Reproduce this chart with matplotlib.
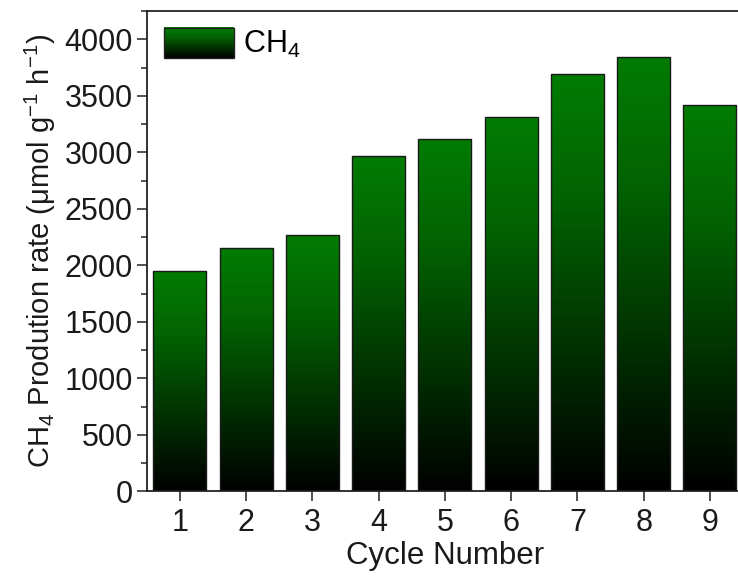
import numpy as np
import matplotlib
matplotlib.use('Agg')
import matplotlib.pyplot as plt
from matplotlib.colors import LinearSegmentedColormap
from matplotlib.patches import Rectangle
from matplotlib.legend_handler import HandlerBase
from matplotlib.ticker import MultipleLocator

plt.rcParams['font.family'] = ['Liberation Sans', 'DejaVu Sans']
plt.rcParams['mathtext.fontset'] = 'custom'
plt.rcParams['mathtext.rm'] = 'Liberation Sans'
plt.rcParams['mathtext.it'] = 'Liberation Sans:italic'

# 循环次数与对应的CH4产率
cycles = [1, 2, 3, 4, 5, 6, 7, 8, 9]
ch4_rate = [1945, 2150, 2270, 2965, 3120, 3310, 3690, 3840, 3415]

# 从底部黑色渐变到顶部绿色
cmap = LinearSegmentedColormap.from_list(
    'blk_green', [(0.0, '#000000'), (0.35, '#013201'), (0.7, '#026202'), (1.0, '#037c03')])
grad = np.linspace(0, 1, 256).reshape(-1, 1)


class GradientHandler(HandlerBase):
    def create_artists(self, legend, orig_handle, xdescent, ydescent,
                       width, height, fontsize, trans):
        n = 40
        arts = []
        for i in range(n):
            r = Rectangle((-xdescent, -ydescent + height * i / n), width, height / n + 0.3,
                          facecolor=cmap(i / (n - 1)), edgecolor='none', transform=trans)
            arts.append(r)
        arts.append(Rectangle((-xdescent, -ydescent), width, height, fill=False,
                              edgecolor='#222222', lw=1.0, transform=trans))
        return arts


fig = plt.figure(figsize=(7.38, 5.79), dpi=100)
ax = fig.add_axes([0.1988, 0.1515, 0.808, 0.8295])

bw = 0.8
bars = ax.bar(cycles, ch4_rate, width=bw, facecolor='none', edgecolor='#1a1a1a',
              linewidth=1.0, zorder=3)
for b, x, v in zip(bars, cycles, ch4_rate):
    im = ax.imshow(grad, cmap=cmap, origin='lower', aspect='auto',
                   extent=[x - bw / 2, x + bw / 2, 0, v], zorder=2)
    im.set_clip_path(b)

ax.set_xlim(0.5, 9.5)
ax.set_ylim(0, 4250)
ax.set_xticks(cycles)
ax.yaxis.set_major_locator(MultipleLocator(500))
ax.yaxis.set_minor_locator(MultipleLocator(250))

for s in ax.spines.values():
    s.set_linewidth(1.3)
    s.set_color('#222222')

ax.tick_params(axis='both', which='major', direction='out', length=7, width=1.1,
               labelsize=22, colors='#222222', labelcolor='#1a1a1a', pad=5)
ax.tick_params(axis='y', which='minor', direction='out', length=4, width=1.1, colors='#222222')
ax.tick_params(axis='y', which='major', pad=3)

ax.set_xlabel('Cycle Number', fontsize=22.5, color='#1a1a1a', labelpad=2)
ax.set_ylabel(r'CH$_4$ Prodution rate ($\mathrm{\mu}$mol g$^{-1}$ h$^{-1}$)',
              fontsize=21, color='#1a1a1a', labelpad=5)

proxy = Rectangle((0, 0), 1, 1)
ax.legend([proxy], [r'CH$_4$'], handler_map={Rectangle: GradientHandler()},
          loc='upper left', frameon=False, fontsize=22, handlelength=2.3,
          handleheight=1.15, handletextpad=0.3, borderaxespad=0.15,
          bbox_to_anchor=(0.0, 1.0))

fig.savefig('out.png', dpi=100)
